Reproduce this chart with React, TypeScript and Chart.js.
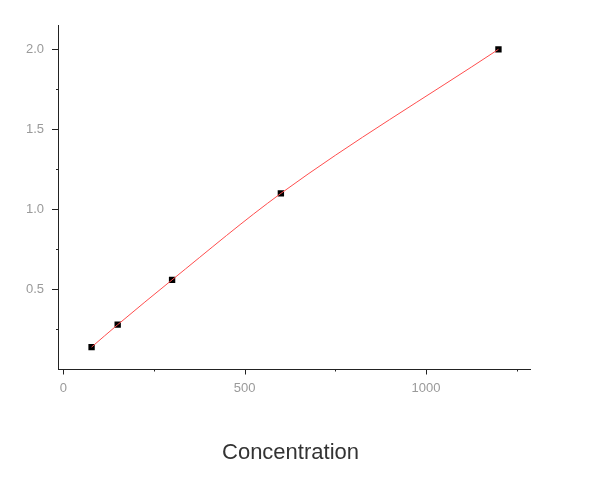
import React, { useEffect, useRef } from "react";
import { Chart, registerables } from "chart.js";

Chart.register(...registerables);

const concentration = [78, 150, 300, 600, 1200];
const absorbance = [0.14, 0.28, 0.56, 1.1, 2.0];
const xMajorTicks = [0, 500, 1000];
const xMinorTicks = [250, 750, 1250];
const yMajorTicks = [0.5, 1.0, 1.5, 2.0];
const yMinorTicks = [0.25, 0.75, 1.25, 1.75];
const xTitle = "Concentration";

const tickPlugin = {
  id: "customTicks",
  afterDraw(chart: any) {
    const ctx = chart.ctx;
    const xs = chart.scales.x;
    const ys = chart.scales.y;
    const area = chart.chartArea;
    ctx.save();
    ctx.strokeStyle = "#222";
    ctx.lineWidth = 1;
    ctx.beginPath();
    for (const v of xMajorTicks) {
      const px = Math.round(xs.getPixelForValue(v)) + 0.5;
      ctx.moveTo(px, area.bottom);
      ctx.lineTo(px, area.bottom + 5);
    }
    for (const v of xMinorTicks) {
      const px = Math.round(xs.getPixelForValue(v)) + 0.5;
      ctx.moveTo(px, area.bottom);
      ctx.lineTo(px, area.bottom + 2);
    }
    for (const v of yMajorTicks) {
      const py = Math.round(ys.getPixelForValue(v)) + 0.5;
      ctx.moveTo(area.left, py);
      ctx.lineTo(area.left - 6, py);
    }
    for (const v of yMinorTicks) {
      const py = Math.round(ys.getPixelForValue(v)) + 0.5;
      ctx.moveTo(area.left, py);
      ctx.lineTo(area.left - 2, py);
    }
    ctx.stroke();
    ctx.fillStyle = "#333";
    ctx.font = "22px 'Liberation Sans', Arial, sans-serif";
    ctx.textAlign = "center";
    ctx.textBaseline = "alphabetic";
    ctx.fillText(xTitle, 290.5, 459);
    ctx.restore();
  },
};

export default function App() {
  const ref = useRef<HTMLCanvasElement>(null);
  useEffect(() => {
    if (!ref.current) return;
    const chart = new Chart(ref.current, {
      type: "line",
      data: {
        datasets: [
          {
            label: "fit",
            data: concentration.map((x, i) => ({ x, y: absorbance[i] })),
            borderColor: "#ff4d4d",
            borderWidth: 1,
            pointRadius: 0,
            cubicInterpolationMode: "monotone",
            fill: false,
          },
          {
            label: "data",
            data: concentration.map((x, i) => ({ x, y: absorbance[i] })),
            showLine: false,
            pointStyle: "rect",
            pointRadius: 4.5,
            pointBackgroundColor: "#000",
            pointBorderColor: "#000",
            pointBorderWidth: 0,
          },
        ],
      },
      options: {
        animation: false,
        responsive: true,
        maintainAspectRatio: false,
        layout: { padding: { top: 25, right: 70, left: 0, bottom: 0 } },
        plugins: { legend: { display: false }, tooltip: { enabled: false } },
        scales: {
          x: {
            type: "linear",
            min: -14.6,
            max: 1287,
            grid: { display: false },
            border: { display: true, color: "#222", width: 1 },
            afterBuildTicks: (s: any) => {
              s.ticks = xMajorTicks.map((v) => ({ value: v }));
            },
            afterFit: (s: any) => {
              s.height = 116.5;
            },
            ticks: {
              padding: 3,
              color: "#9a9a9a",
              font: { family: "'Liberation Sans', Arial, sans-serif", size: 13 },
              callback: (v: any) => String(v),
              maxRotation: 0,
            },
          },
          y: {
            type: "linear",
            min: 0,
            max: 2.152,
            grid: { display: false },
            border: { display: true, color: "#222", width: 1 },
            afterBuildTicks: (s: any) => {
              s.ticks = yMajorTicks.map((v) => ({ value: v }));
            },
            afterFit: (s: any) => {
              s.width = 58;
            },
            ticks: {
              padding: 6,
              color: "#9a9a9a",
              font: { family: "'Liberation Sans', Arial, sans-serif", size: 13 },
              callback: (v: any) => Number(v).toFixed(1),
            },
          },
        },
      },
      plugins: [tickPlugin],
    });
    return () => chart.destroy();
  }, []);
  return (
    <div style={{ position: "absolute", left: 0, top: 0, width: 600, height: 486, background: "#fff" }}>
      <canvas ref={ref} />
    </div>
  );
}
